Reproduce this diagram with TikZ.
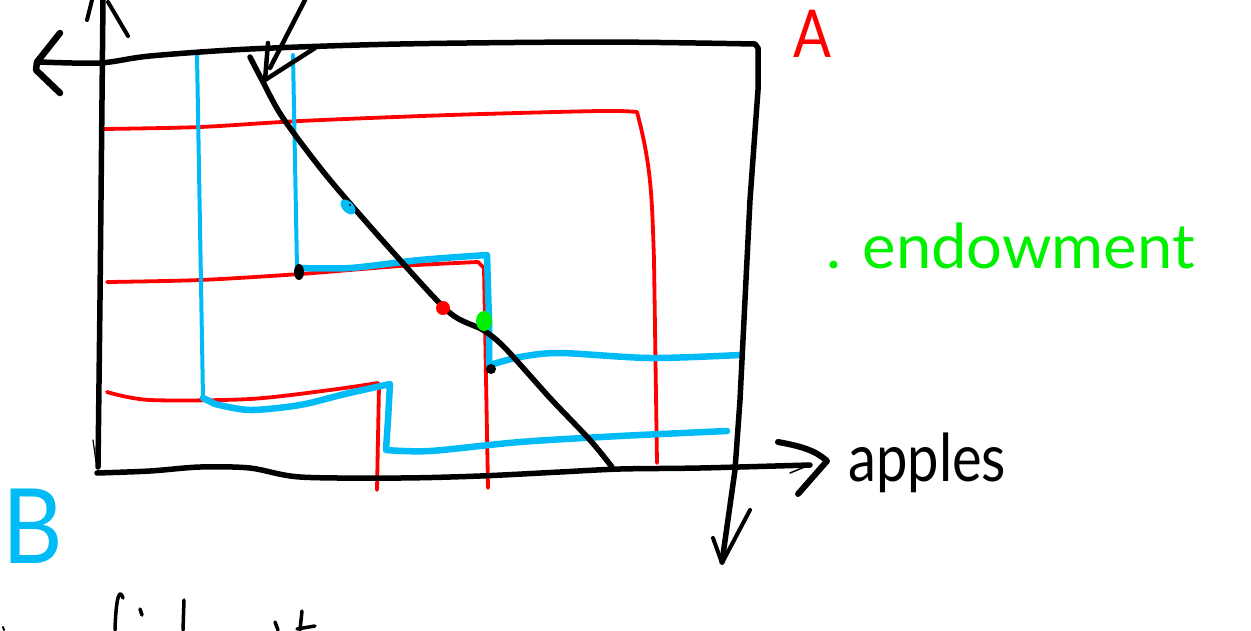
\documentclass[tikz,border=0pt]{standalone}
\usepackage{fontspec}
\newfontfamily\hand{Lato}
\definecolor{ired}{RGB}{255,0,0}
\definecolor{iblue}{RGB}{0,187,245}
\definecolor{igreen}{RGB}{0,240,0}
\begin{document}
\begin{tikzpicture}[x=1pt,y=-1pt,
  ax/.style={line width=5.5pt, line cap=round, line join=round},
  redc/.style={ired, line width=3.8pt, line cap=round, line join=round},
  bluethick/.style={iblue, line width=6.5pt, line cap=round, line join=round},
  bluethin/.style={iblue, line width=4pt, line cap=round, line join=round},
  lbl/.style={font=\hand, inner sep=0pt, anchor=base west}]
\useasboundingbox (0,0) rectangle (1251,630);

% ---------- red indifference curves (A) ----------
\draw[redc] plot[smooth] coordinates {(103,129) (200,127) (300,121) (450,115) (600,111) (637,112)}
  to[out=-75,in=92] (654,260) -- (657,463);
\draw[redc] plot[smooth] coordinates {(107,282) (200,280) (300,274) (400,266) (478,262)}
  -- (484,268) -- (488,488);
\draw[redc] plot[smooth] coordinates {(107,392) (150,400) (250,399) (330,390) (378,383)}
  -- (379,386) -- (377,490);

% ---------- blue indifference curves (B) ----------
\draw[bluethin] (197,55) -- (203,398);
\draw[bluethick] (203,398) -- (215,404) plot[smooth] coordinates {(215,404) (250,410) (300,405) (345,394) (390,384)}
  -- (388,420) -- (386,450)
  plot[smooth] coordinates {(386,450) (430,451) (520,442) (620,436) (727,431)};
\draw[bluethin] (293,55) -- (297,268);
\draw[bluethick] plot[smooth] coordinates {(298,268) (350,268) (420,260) (487,255)}
  -- (489,320) -- (489,365)
  plot[smooth] coordinates {(490,365) (520,357) (560,353) (650,358) (740,355)};

% ---------- axes of A (top right origin) ----------
\draw[ax] plot[smooth] coordinates {(40,62) (100,63) (150,56) (250,49) (400,44) (600,42) (755,44)}
  -- (758,48) -- (758,90) -- (750,200) -- (740,400) -- (735,470) -- (722,562);
\draw[ax, line width=6.5pt] (60,33) -- (37,62) -- (36,70) -- (60,93);
\draw[ax, line width=4pt] (713,538) -- (722,563) -- (750,510);

% ---------- axes of B (bottom left origin) ----------
\draw[ax] (98,467) -- (100,300) -- (103,0);
\draw[ax, line width=4pt] (87,20) -- (92,0);
\draw[ax, line width=4pt] (108,2) -- (128,36);
\draw[ax] plot[smooth] coordinates {(97,473) (150,471) (200,467) (250,468) (300,477) (400,478) (480,476) (560,472) (620,469) (700,468) (810,465)};
\draw[ax, line width=6pt] (778,442) .. controls (800,446) and (815,450) .. (827,461) -- (798,494);
\draw[ax, line width=1.5pt] (790,473) -- (807,466);
\draw[ax, line width=1.2pt] (93,440) -- (96,462);

% ---------- contract curve and pointer ----------
\draw[ax] plot[smooth] coordinates {(250,57) (262,80) (283,118) (330,180) (400,260) (450,313) (483,330) (505,348) (550,398) (590,440) (612,467)};
\draw[ax, line width=4.5pt] (305,0) -- (270,68);
\draw[ax, line width=4.5pt] (268,43) -- (265,80) -- (315,48);

% ---------- points ----------
\fill[black] (299,272) ellipse [x radius=5, y radius=8];
\fill[black] (491,369) circle (5);
\fill[ired] (443,308) circle (7);
\fill[igreen] (484,321) ellipse [x radius=8, y radius=10];
\fill[iblue, rotate around={-45:(348,207)}] (348,207) ellipse [x radius=9, y radius=5.5];
\fill[black] (350,205) circle (1.2);

% ---------- labels ----------
\node[lbl, text=ired, xscale=0.85] (lA) at (793,57) {\fontsize{66}{66}\selectfont A};
\node[lbl, text=iblue, xscale=0.9] (lB) at (2,563) {\fontsize{104}{104}\selectfont B};
\node[lbl, text=igreen, xscale=1.02] (lend) at (826,268) {\fontsize{62}{62}\selectfont . endowment};
\node[lbl, text=black, xscale=0.85] (lapp) at (848,481) {\fontsize{66}{66}\selectfont apples};

% ---------- cut-off strokes at the bottom ----------
\draw[ax, line width=3.5pt] (123,598) .. controls (120,588) and (116,595) .. (115,630);
\draw[ax, line width=3.5pt] (140,609) -- (142,615);
\draw[ax, line width=3.5pt] (184,600) -- (183,630);
\draw[ax, line width=3.5pt] (275,622) -- (278,630);
\draw[ax, line width=3.5pt] (302,611) -- (300,630);
\draw[ax, line width=3.5pt] (297,629) -- (315,626);
\draw[ax, line width=2pt] (3,627) -- (4,630);
\end{tikzpicture}
\end{document}
